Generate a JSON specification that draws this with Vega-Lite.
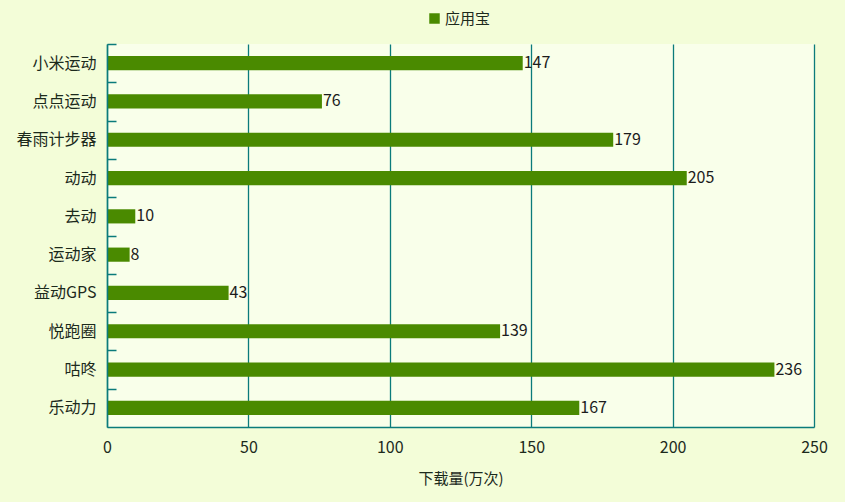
{
  "$schema": "https://vega.github.io/schema/vega-lite/v6.json",
  "autosize": {"type": "none"},
  "width": 707,
  "height": 383,
  "padding": {"left": 107, "top": 44, "right": 31, "bottom": 75},
  "background": "#f3fdd8",
  "config": {
    "font": "Noto Sans CJK SC",
    "view": {"fill": "#f9ffea", "stroke": null},
    "axis": {"labelColor": "#1c2a1c", "titleColor": "#1c2a1c", "domainColor": "#0b7b7b", "tickColor": "#0b7b7b", "gridColor": "#0b7b7b"}
  },
  "data": {
    "values": [
      {"app": "小米运动", "downloads": 147, "platform": "应用宝"},
      {"app": "点点运动", "downloads": 76, "platform": "应用宝"},
      {"app": "春雨计步器", "downloads": 179, "platform": "应用宝"},
      {"app": "动动", "downloads": 205, "platform": "应用宝"},
      {"app": "去动", "downloads": 10, "platform": "应用宝"},
      {"app": "运动家", "downloads": 8, "platform": "应用宝"},
      {"app": "益动GPS", "downloads": 43, "platform": "应用宝"},
      {"app": "悦跑圈", "downloads": 139, "platform": "应用宝"},
      {"app": "咕咚", "downloads": 236, "platform": "应用宝"},
      {"app": "乐动力", "downloads": 167, "platform": "应用宝"}
    ]
  },
  "encoding": {
    "y": {
      "field": "app",
      "type": "nominal",
      "sort": null,
      "scale": {"paddingInner": 0.63, "paddingOuter": 0.315},
      "axis": {
        "title": null,
        "labelFontSize": 16,
        "tickSize": -9,
        "tickWidth": 1.5,
        "tickOffset": -19.15,
        "labelOffset": 19.15,
        "domainWidth": 1.5,
        "labelPadding": 20,
        "zindex": 1
      }
    },
    "x": {
      "field": "downloads",
      "type": "quantitative",
      "scale": {"domain": [0, 250]},
      "axis": {
        "title": "下载量(万次)",
        "titleFontSize": 15,
        "titleFontWeight": "normal",
        "titlePadding": 16,
        "labelFontSize": 16,
        "labelPadding": 12,
        "labelFlush": false,
        "ticks": false,
        "tickCount": 5,
        "gridWidth": 1.3,
        "domainWidth": 1.5
      }
    }
  },
  "layer": [
    {
      "mark": {"type": "bar"},
      "encoding": {
        "color": {
          "field": "platform",
          "type": "nominal",
          "scale": {"range": ["#4a8a00"]},
          "legend": {
            "title": null,
            "orient": "none",
            "legendX": 320,
            "legendY": -33,
            "symbolType": "square",
            "symbolSize": 110,
            "symbolStrokeWidth": 0,
            "labelFontSize": 15,
            "labelColor": "#1c2a1c",
            "labelOffset": 3
          }
        }
      }
    },
    {
      "mark": {"type": "text", "align": "left", "dx": 1, "fontSize": 16, "color": "#1c1c1c"},
      "encoding": {"text": {"field": "downloads", "type": "quantitative"}}
    }
  ]
}
